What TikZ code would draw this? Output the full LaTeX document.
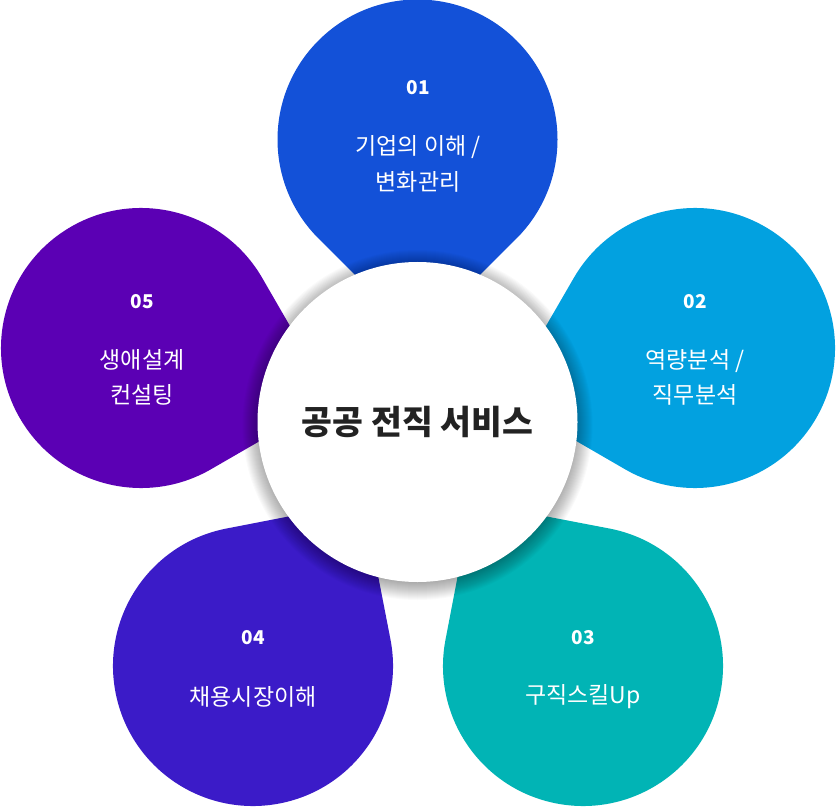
\documentclass[tikz,border=0pt]{standalone}
\usepackage{fontspec}
\setmainfont{Noto Sans CJK KR}
\usetikzlibrary{calc}
\definecolor{cA}{HTML}{1351D8}
\definecolor{cB}{HTML}{02A1E0}
\definecolor{cC}{HTML}{01B4B5}
\definecolor{cD}{HTML}{3B1BC8}
\definecolor{cE}{HTML}{5B00B4}
\definecolor{ctext}{HTML}{222222}
\newcommand\petalshape[3]{%
  \fill[#1] ($(#2)+(#3:197.99)$) -- ($(#2)+(#3+45:140)$)
    arc[start angle=#3+45,delta angle=270,radius=140] -- cycle;}
\begin{document}
\begin{tikzpicture}[x=1pt,y=1pt,
  num/.style={text=white,font=\fontsize{19}{19}\selectfont\bfseries,inner sep=0},
  lbl/.style={text=white,font=\fontsize{23}{35.5}\selectfont,align=center,inner sep=0},
  hub/.style={circle,fill=white,minimum size=320,inner sep=0,text=ctext,
    font=\fontsize{33.5}{33.5}\selectfont\bfseries}]
\fill[white] (0,0) rectangle (837,807);
\useasboundingbox (0,0) rectangle (837,807);
\coordinate (M) at (417.5,385);
\coordinate (P1) at (417.5,667.5);
\coordinate (P2) at (695,459);
\coordinate (P3) at (583,141);
\coordinate (P4) at (253,141);
\coordinate (P5) at (141,459);
\petalshape{cA}{P1}{270}
\petalshape{cB}{P2}{194.93}
\petalshape{cC}{P3}{124.15}
\petalshape{cD}{P4}{56.0}
\petalshape{cE}{P5}{345.02}
\foreach \i in {1,...,18}
  \fill[black,opacity=0.02] ($(M)+(0,-3)$) circle[radius=157+\i];
\node[hub] (hub) at (M) {공공 전직 서비스};
\node[num] (n1) at (418,719) {01};
\node[lbl] (t1) at (418,643) {기업의 이해 /\\변화관리};
\node[num] (n2) at (695,505) {02};
\node[lbl] (t2) at (695,429.5) {역량분석 /\\직무분석};
\node[num] (n3) at (583,169) {03};
\node[lbl] (t3) at (583,110) {구직스킬Up};
\node[num] (n4) at (253,169) {04};
\node[lbl] (t4) at (253,110) {채용시장이해};
\node[num] (n5) at (142,505) {05};
\node[lbl] (t5) at (142,429.5) {생애설계\\컨설팅};
\end{tikzpicture}
\end{document}
